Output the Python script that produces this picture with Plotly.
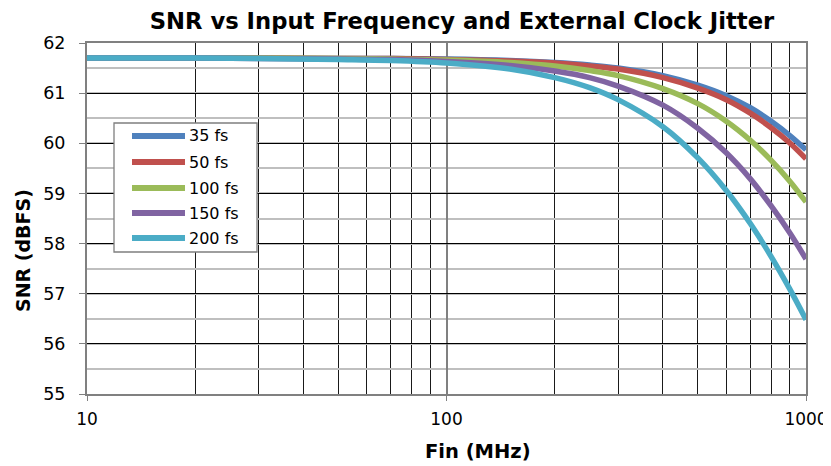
import plotly.graph_objects as go

fin_mhz = [10, 20, 30, 50, 70, 100, 150, 200, 250, 300, 400, 500, 600, 700, 800, 900, 1000]
snr_35fs = [61.70, 61.70, 61.70, 61.69, 61.69, 61.68, 61.65, 61.61, 61.56, 61.50, 61.35, 61.16, 60.95, 60.71, 60.44, 60.16, 59.87]
snr_50fs = [61.70, 61.70, 61.70, 61.69, 61.69, 61.67, 61.64, 61.60, 61.54, 61.48, 61.31, 61.10, 60.87, 60.60, 60.31, 60.01, 59.69]
snr_100fs = [61.70, 61.70, 61.70, 61.69, 61.68, 61.66, 61.61, 61.54, 61.45, 61.35, 61.09, 60.79, 60.44, 60.06, 59.66, 59.25, 58.83]
snr_150fs = [61.70, 61.70, 61.69, 61.68, 61.67, 61.63, 61.55, 61.44, 61.31, 61.14, 60.76, 60.30, 59.81, 59.29, 58.75, 58.22, 57.69]
snr_200fs = [61.70, 61.70, 61.69, 61.67, 61.65, 61.60, 61.48, 61.31, 61.11, 60.87, 60.33, 59.71, 59.06, 58.40, 57.74, 57.10, 56.48]

series_names = ["35 fs", "50 fs", "100 fs", "150 fs", "200 fs"]
series_values = [snr_35fs, snr_50fs, snr_100fs, snr_150fs, snr_200fs]
series_colors = ["#4F81BD", "#C0504D", "#9BBB59", "#8064A2", "#4BACC6"]

y_ticks = [55, 56, 57, 58, 59, 60, 61, 62]
x_ticks = [10, 100, 1000]

FONT = "DejaVu Sans, Liberation Sans, Arial, sans-serif"
OFF = 8                      # page body margin in the browser
W, H = 831 - OFF, 466 - OFF  # figure size so that it fills the window

fig = go.Figure()
for name, vals, col in zip(series_names, series_values, series_colors):
    fig.add_trace(go.Scatter(x=fin_mhz, y=vals, mode="lines", name=name,
                             line=dict(color=col, width=5.5, shape="spline", smoothing=1.0),
                             showlegend=False))

# plot area in window pixels (reference coordinates)
L, R, T, B = 87, 806, 43, 394
def px(x):
    return (x - L) / (R - L)
def py(y):
    return (B - y) / (B - T)

shapes = [dict(type="rect", xref="paper", yref="paper",
               x0=px(114), x1=px(257), y0=py(252), y1=py(123),
               line=dict(color="#7F7F7F", width=1.3), fillcolor="white", layer="above")]
annotations = []
legend_y = [136, 162, 188, 213, 238]
for name, col, ly in zip(series_names, series_colors, legend_y):
    shapes.append(dict(type="line", xref="paper", yref="paper",
                       x0=px(132), x1=px(185), y0=py(ly), y1=py(ly),
                       line=dict(color=col, width=6), layer="above"))
    annotations.append(dict(xref="paper", yref="paper", x=px(187), y=py(ly),
                            text=name, showarrow=False, xanchor="left", yanchor="middle",
                            font=dict(family=FONT, size=16, color="black")))

# axis titles
annotations.append(dict(xref="paper", yref="paper", x=px(478), y=py(451),
                        text="<b>Fin (MHz)</b>", showarrow=False, xanchor="center", yanchor="middle",
                        font=dict(family=FONT, size=19.5, color="black")))
annotations.append(dict(xref="paper", yref="paper", x=px(23), y=py(251),
                        text="<b>SNR (dBFS)</b>", showarrow=False, xanchor="center", yanchor="middle",
                        textangle=-90,
                        font=dict(family=FONT, size=19, color="black")))

fig.update_layout(
    width=W, height=H,
    margin=dict(l=L - OFF, r=831 - R, t=T - OFF, b=466 - B, autoexpand=False),
    paper_bgcolor="white", plot_bgcolor="white",
    font=dict(family=FONT, size=17, color="black"),
    title=dict(text="<b>SNR vs Input Frequency and External Clock Jitter</b>",
               x=(462 - OFF) / W, xanchor="center", y=1 - (21 - OFF) / H, yanchor="middle",
               font=dict(family=FONT, size=22.7, color="black")),
    shapes=shapes,
    annotations=annotations,
    xaxis=dict(type="log", range=[1, 3], tickvals=x_ticks, ticktext=[str(v) for v in x_ticks],
               showgrid=True, gridcolor="#808080", gridwidth=1.5,
               minor=dict(showgrid=True, gridcolor="#1a1a1a", gridwidth=1, dtick="D1"),
               showline=True, linecolor="#808080", linewidth=2, mirror=True,
               ticks="outside", ticklen=5, tickcolor="#808080",
               zeroline=False, automargin=False, ticklabelstandoff=4,
               ticklabeloverflow="allow",
               tickfont=dict(family=FONT, size=17)),
    yaxis=dict(range=[55, 62], tickvals=y_ticks,
               showgrid=True, gridcolor="black", gridwidth=1,
               minor=dict(showgrid=True, gridcolor="#BFBFBF", gridwidth=2, dtick=0.5),
               showline=True, linecolor="#808080", linewidth=2, mirror=True,
               ticks="outside", ticklen=6, tickcolor="#808080",
               zeroline=False, automargin=False, ticklabelstandoff=10,
               tickfont=dict(family=FONT, size=17.5)),
)

fig.write_html("out.html")
